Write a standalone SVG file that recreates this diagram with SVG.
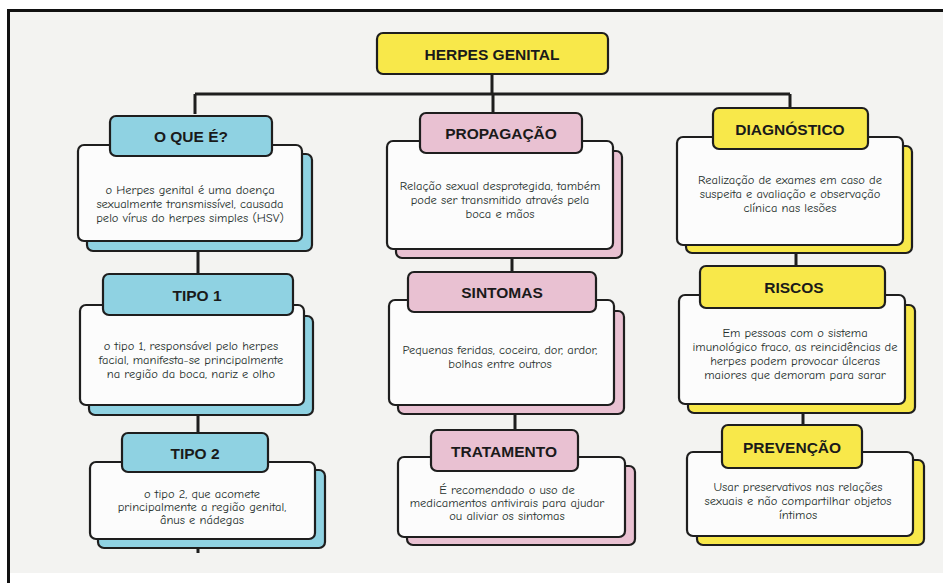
<svg xmlns="http://www.w3.org/2000/svg" width="943" height="583" viewBox="0 0 943 583">
<style>
.bg{fill:#f3f3f1}
.hd{stroke:#1e1e1e;stroke-width:2.2}
.card{fill:#fcfcfc;stroke:#1e1e1e;stroke-width:2.2}
.sh{stroke:#1e1e1e;stroke-width:2.2}
.blue{fill:#8fd2e2}
.pink{fill:#e9c1d2}
.yel{fill:#f8e84a}
.t{font-family:"Liberation Sans",Arial,sans-serif;font-weight:bold;font-size:15.5px;fill:#1a1a1a;text-anchor:middle}
.b{font-family:"Comic Neue","Liberation Sans",Arial,sans-serif;font-size:12.5px;fill:#26302c;text-anchor:middle}
.ln{stroke:#1e1e1e;stroke-width:3;fill:none}
</style>
<rect x="0" y="0" width="943" height="583" fill="#ffffff"/>
<rect class="bg" x="9" y="11" width="934" height="562"/>
<path d="M8.5 583 V10.5 H943" stroke="#111" stroke-width="3" fill="none"/>

<g id="connectors">
<path class="ln" d="M492 73 V94 M195 94 H790 M195 94 V114 M493 94 V113 M790 94 V110"/>
<path class="ln" d="M198 250 V275 M198 415 V433 M198 548 V553"/>
<path class="ln" d="M512 258 V273 M515 413 V431"/>
<path class="ln" d="M796 253 V268 M803 413 V426"/>
</g>

<g id="title">
<rect class="hd yel" x="377" y="33" width="231" height="41" rx="6"/>
<text class="t" x="492" y="60" font-size="17.5">HERPES GENITAL</text>
</g>

<g id="oque">
<rect class="sh blue" x="87" y="154" width="225" height="97" rx="6"/>
<rect class="card" x="78" y="145" width="224" height="96" rx="6"/>
<rect class="hd blue" x="110" y="116" width="162" height="40" rx="6"/>
<text class="t" x="191" y="142">O QUE É?</text>
<text class="b" x="190" y="194">o Herpes genital é uma doença</text>
<text class="b" x="190" y="208">sexualmente transmissível, causada</text>
<text class="b" x="190" y="222">pelo vírus do herpes simples (HSV)</text>
</g>

<g id="tipo1">
<rect class="sh blue" x="89" y="316" width="224" height="99" rx="6"/>
<rect class="card" x="80" y="305" width="224" height="100" rx="6"/>
<rect class="hd blue" x="103" y="274" width="190" height="41" rx="6"/>
<text class="t" x="197" y="301">TIPO 1</text>
<text class="b" x="191" y="350">o tipo 1, responsável pelo herpes</text>
<text class="b" x="191" y="364">facial, manifesta-se principalmente</text>
<text class="b" x="191" y="378">na região da boca, nariz e olho</text>
</g>

<g id="tipo2">
<rect class="sh blue" x="98" y="470" width="227" height="78" rx="6"/>
<rect class="card" x="90" y="462" width="225" height="77" rx="6"/>
<rect class="hd blue" x="122" y="433" width="146" height="39" rx="6"/>
<text class="t" x="195" y="459">TIPO 2</text>
<text class="b" x="202" y="498">o tipo 2, que acomete</text>
<text class="b" x="202" y="511">principalmente a região genital,</text>
<text class="b" x="202" y="524">ânus e nádegas</text>
</g>

<g id="propagacao">
<rect class="sh pink" x="396" y="151" width="226" height="107" rx="6"/>
<rect class="card" x="387" y="141" width="226" height="108" rx="6"/>
<rect class="hd pink" x="420" y="113" width="162" height="40" rx="6"/>
<text class="t" x="501" y="139">PROPAGAÇÃO</text>
<text class="b" x="500" y="190">Relação sexual desprotegida, também</text>
<text class="b" x="500" y="204">pode ser transmitido através pela</text>
<text class="b" x="500" y="218">boca e mãos</text>
</g>

<g id="sintomas">
<rect class="sh pink" x="398" y="311" width="226" height="103" rx="6"/>
<rect class="card" x="389" y="300" width="225" height="105" rx="6"/>
<rect class="hd pink" x="408" y="272" width="188" height="40" rx="6"/>
<text class="t" x="502" y="298">SINTOMAS</text>
<text class="b" x="500" y="354">Pequenas feridas, coceira, dor, ardor,</text>
<text class="b" x="500" y="368">bolhas entre outros</text>
</g>

<g id="tratamento">
<rect class="sh pink" x="407" y="466" width="228" height="79" rx="6"/>
<rect class="card" x="398" y="457" width="227" height="80" rx="6"/>
<rect class="hd pink" x="431" y="430" width="147" height="41" rx="6"/>
<text class="t" x="504" y="457">TRATAMENTO</text>
<text class="b" x="507" y="494" font-size="11.5">É recomendado o uso de</text>
<text class="b" x="507" y="507" font-size="11.5">medicamentos antivirais para ajudar</text>
<text class="b" x="507" y="520" font-size="11.5">ou aliviar os sintomas</text>
</g>

<g id="diagnostico">
<rect class="sh yel" x="686" y="146" width="226" height="107" rx="6"/>
<rect class="card" x="677" y="137" width="226" height="108" rx="6"/>
<rect class="hd yel" x="713" y="108" width="155" height="41" rx="6"/>
<text class="t" x="790" y="135">DIAGNÓSTICO</text>
<text class="b" x="790" y="184">Realização de exames em caso de</text>
<text class="b" x="790" y="198">suspeita e avaliação e observação</text>
<text class="b" x="790" y="212">clínica nas lesões</text>
</g>

<g id="riscos">
<rect class="sh yel" x="688" y="305" width="227" height="108" rx="6"/>
<rect class="card" x="679" y="295" width="226" height="109" rx="6"/>
<rect class="hd yel" x="700" y="266" width="185" height="42" rx="6"/>
<text class="t" x="794" y="293">RISCOS</text>
<text class="b" x="795" y="337">Em pessoas com o sistema</text>
<text class="b" x="795" y="351">imunológico fraco, as reincidências de</text>
<text class="b" x="795" y="365">herpes podem provocar úlceras</text>
<text class="b" x="795" y="379">maiores que demoram para sarar</text>
</g>

<g id="prevencao">
<rect class="sh yel" x="697" y="460" width="227" height="85" rx="6"/>
<rect class="card" x="687" y="452" width="226" height="84" rx="6"/>
<rect class="hd yel" x="722" y="425" width="140" height="43" rx="6"/>
<text class="t" x="792" y="453">PREVENÇÃO</text>
<text class="b" x="798" y="491">Usar preservativos nas relações</text>
<text class="b" x="798" y="505">sexuais e não compartilhar objetos</text>
<text class="b" x="798" y="519">íntimos</text>
</g>
</svg>
